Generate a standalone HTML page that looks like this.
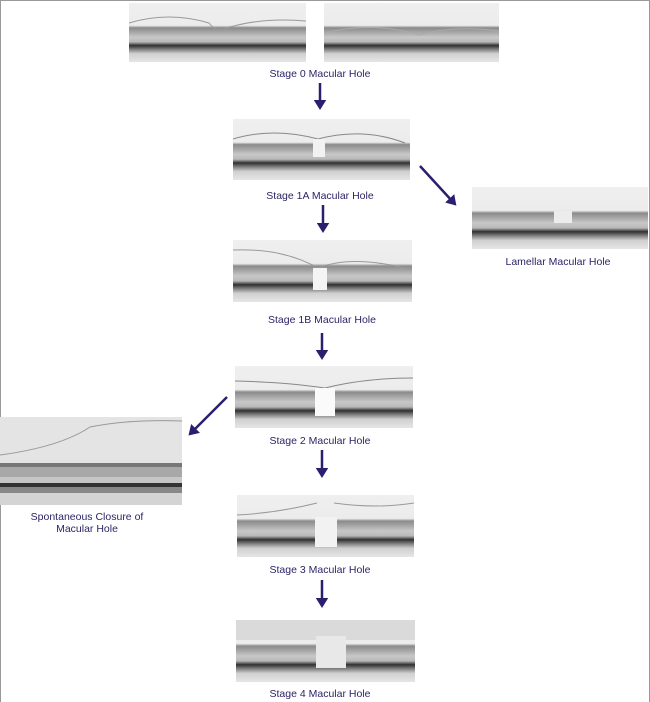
<!DOCTYPE html>
<html><head><meta charset="utf-8"><style>
html,body{margin:0;padding:0;background:#fff;}
body{width:650px;height:701px;position:relative;overflow:hidden;font-family:"Liberation Sans",sans-serif;}
.frame{position:absolute;left:0;top:0;width:648px;height:701px;border-left:1px solid #999;border-top:1px solid #999;border-right:1px solid #999;}
.img{position:absolute;}
.lbl{position:absolute;color:#2b2566;font-size:10.5px;text-align:center;white-space:nowrap;transform:translateX(-50%);line-height:12px;}
svg.ar{position:absolute;left:0;top:0;}
</style></head><body>
<div class="frame"></div>

<svg width="0" height="0" style="position:absolute">
<defs>
<linearGradient id="g" x1="0" y1="0" x2="0" y2="1">
<stop offset="0" stop-color="#efefef"/>
<stop offset="0.38" stop-color="#ececec"/>
<stop offset="0.42" stop-color="#8a8a8a"/>
<stop offset="0.5" stop-color="#a8a8a8"/>
<stop offset="0.58" stop-color="#c8c8c8"/>
<stop offset="0.66" stop-color="#b8b8b8"/>
<stop offset="0.72" stop-color="#303030"/>
<stop offset="0.78" stop-color="#7a7a7a"/>
<stop offset="0.86" stop-color="#d0d0d0"/>
<stop offset="1" stop-color="#e6e6e6"/>
</linearGradient>
</defs>
</svg>

<!-- Stage 0 -->
<svg class="img" style="left:129px;top:3px" width="177" height="59"><rect width="177" height="59" fill="url(#g)"/><path d="M0 20 Q40 8 80 20 Q88 30 95 26 Q130 14 177 18" stroke="#999" fill="none"/></svg>
<svg class="img" style="left:324px;top:3px" width="175" height="59"><rect width="175" height="59" fill="url(#g)"/><path d="M0 30 Q40 20 80 28 L95 32 Q130 22 175 28" stroke="#aaa" fill="none"/></svg>
<div class="lbl" style="left:320px;top:68px">Stage 0 Macular Hole</div>

<!-- Stage 1A -->
<svg class="img" style="left:233px;top:119px" width="177" height="61"><rect width="177" height="61" fill="url(#g)"/><path d="M0 20 Q40 8 85 20 Q130 8 172 24" stroke="#888" fill="none"/><rect x="80" y="20" width="12" height="18" fill="#f2f2f2"/></svg>
<div class="lbl" style="left:320px;top:190px">Stage 1A Macular Hole</div>

<!-- Lamellar -->
<svg class="img" style="left:472px;top:187px" width="176" height="62"><rect width="176" height="62" fill="url(#g)"/><rect x="82" y="24" width="18" height="12" fill="#ececec"/></svg>
<div class="lbl" style="left:558px;top:256px">Lamellar Macular Hole</div>

<!-- Stage 1B -->
<svg class="img" style="left:233px;top:240px" width="179" height="62"><rect width="179" height="62" fill="url(#g)"/><path d="M0 10 Q50 8 85 28 Q120 14 179 30" stroke="#999" fill="none"/><rect x="80" y="28" width="14" height="22" fill="#f4f4f4"/></svg>
<div class="lbl" style="left:322px;top:314px">Stage 1B Macular Hole</div>

<!-- Stage 2 -->
<svg class="img" style="left:235px;top:366px" width="178" height="62"><rect width="178" height="62" fill="url(#g)"/><path d="M0 15 Q50 16 90 22 Q130 12 178 12" stroke="#888" fill="none"/><rect x="80" y="22" width="20" height="28" fill="#fafafa"/></svg>
<div class="lbl" style="left:320px;top:435px">Stage 2 Macular Hole</div>

<!-- Spontaneous -->
<svg class="img" style="left:0px;top:417px" width="182" height="88"><rect width="182" height="88" fill="#e4e4e4"/>
<rect y="46" width="182" height="4" fill="#777"/><rect y="50" width="182" height="10" fill="#a8a8a8"/><rect y="60" width="182" height="6" fill="#c6c6c6"/><rect y="66" width="182" height="4" fill="#333"/><rect y="70" width="182" height="6" fill="#888"/><rect y="76" width="182" height="12" fill="#d4d4d4"/>
<path d="M0 38 Q60 30 90 10 Q130 2 182 4" stroke="#999" fill="none"/></svg>
<div class="lbl" style="left:87px;top:511px">Spontaneous Closure of<br>Macular Hole</div>

<!-- Stage 3 -->
<svg class="img" style="left:237px;top:495px" width="177" height="62"><rect width="177" height="62" fill="url(#g)"/><path d="M0 20 Q40 18 80 8 M97 8 Q140 14 177 8" stroke="#999" fill="none"/><rect x="78" y="22" width="22" height="30" fill="#f2f2f2"/></svg>
<div class="lbl" style="left:320px;top:564px">Stage 3 Macular Hole</div>

<!-- Stage 4 -->
<svg class="img" style="left:236px;top:620px" width="179" height="62"><rect width="179" height="62" fill="url(#g)"/><rect y="0" width="179" height="20" fill="#dadada"/><rect x="80" y="16" width="30" height="32" fill="#e8e8e8"/></svg>
<div class="lbl" style="left:320px;top:688px">Stage 4 Macular Hole</div>

<!-- Arrows -->
<svg class="ar" width="650" height="701">
<defs><marker id="ah" markerWidth="5" markerHeight="5" refX="2" refY="2.5" orient="auto" markerUnits="strokeWidth"><path d="M0 0 L4 2.5 L0 5 Z" fill="#2a1f6e"/></marker></defs>
<g stroke="#2a1f6e" stroke-width="2.5" marker-end="url(#ah)">
<line x1="320" y1="83" x2="320" y2="105"/>
<line x1="420" y1="166" x2="453" y2="202"/>
<line x1="323" y1="205" x2="323" y2="228"/>
<line x1="322" y1="333" x2="322" y2="355"/>
<line x1="227" y1="397" x2="192" y2="432"/>
<line x1="322" y1="450" x2="322" y2="473"/>
<line x1="322" y1="580" x2="322" y2="603"/>
</g>
</svg>
</body></html>
